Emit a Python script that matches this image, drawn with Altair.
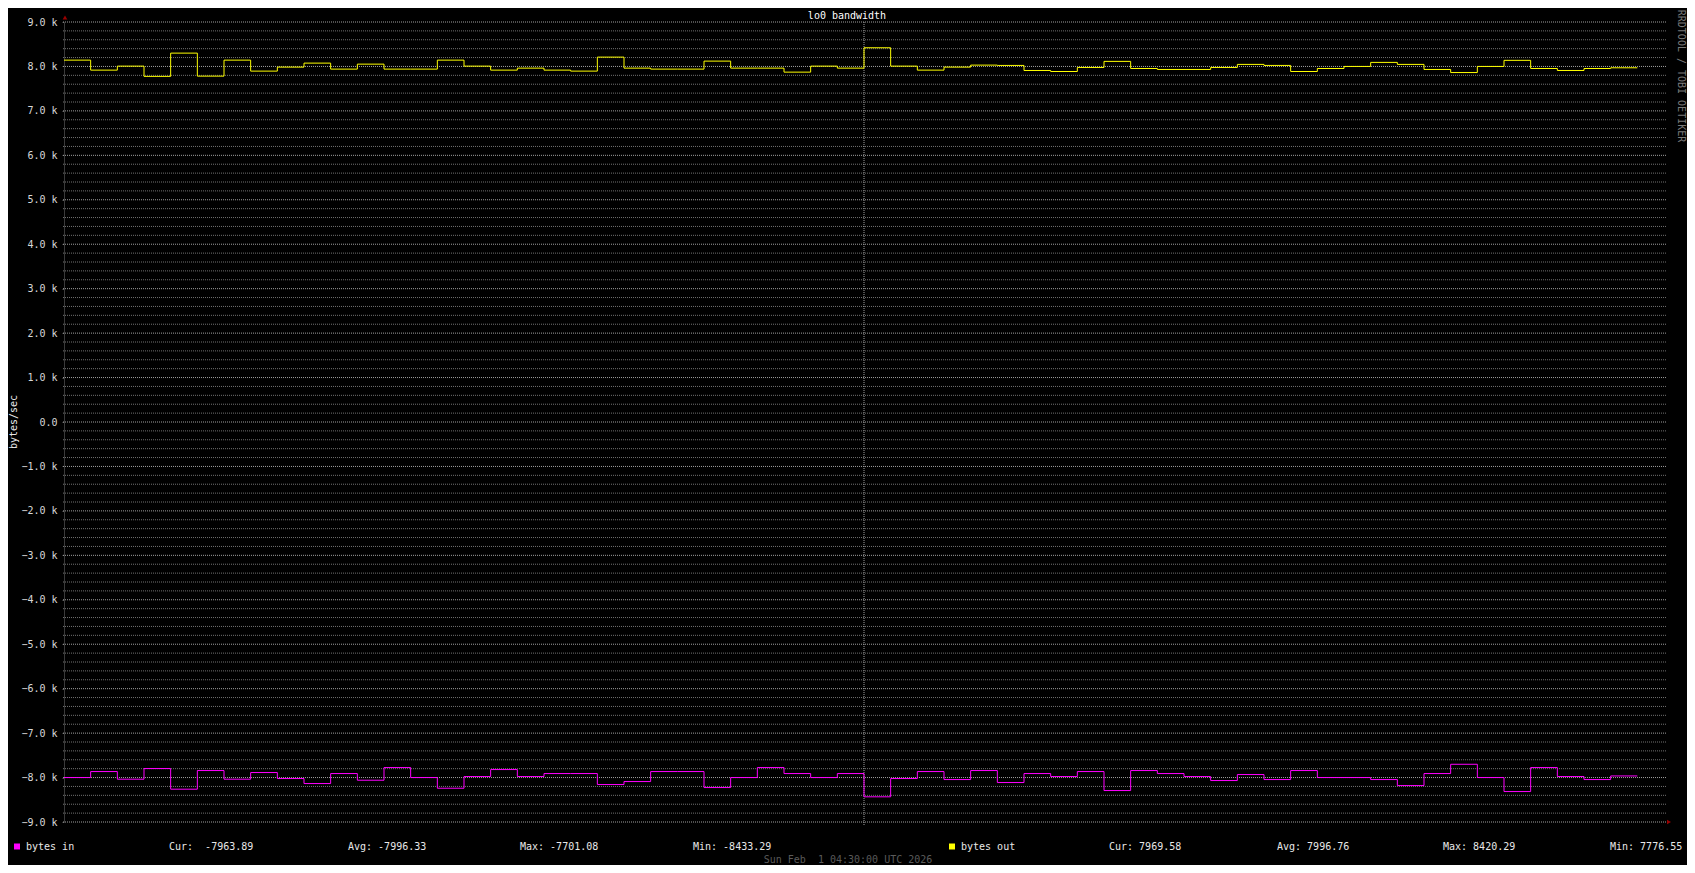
import altair as alt
import pandas as pd

FONT = "DejaVu Sans Mono"

# ---- data (one value per 5-minute step) ----
bytes_out = [8142, 7917, 8007, 7776.55, 8300, 7782, 8142, 7895, 7985, 8075,
             7940, 8052, 7940, 7940, 8142, 8007, 7917, 7962, 7917, 7895,
             8210, 7962, 7940, 7940, 8120, 7962, 7962, 7872, 8007, 7962,
             8420.29, 8007, 7917, 7985, 8030, 8023, 7909, 7886, 7977, 8114,
             7954, 7932, 7932, 7977, 8046, 8023, 7886, 7954, 8000, 8091,
             8046, 7932, 7863, 8000, 8137, 7954, 7909, 7954, 7969.58]
bytes_in = [-8000, -7865, -8037, -7797, -8262, -7842, -8037, -7887, -8022, -8135,
            -7910, -8060, -7775, -8000, -8240, -7977, -7820, -7977, -7910, -7910,
            -8157, -8090, -7865, -7865, -8225, -8000, -7775, -7910, -8000, -7910,
            -8433.29, -8022, -7865, -8045, -7842, -8112, -7910, -7977, -7865, -8292,
            -7842, -7910, -7977, -8067, -7932, -8045, -7842, -8000, -8000, -8045,
            -8180, -7910, -7701.08, -8000, -8315, -7775, -7977, -8045, -7963.89]
n_slots = 60
marker_slot = [30]
y_major = list(range(-9000, 9001, 1000))
y_minor = [v for v in range(-9000, 9001, 200) if v % 1000 != 0]

title_text = "lo0 bandwidth"
y_title = "bytes/sec"
credit = "RRDTOOL / TOBI OETIKER"
date_text = "Sun Feb\u00a0\u00a01 04:30:00 UTC 2026"
in_legend = ["bytes in", "Cur:\u00a0\u00a0-7963.89", "Avg: -7996.33", "Max: -7701.08", "Min: -8433.29"]
out_legend = ["bytes out", "Cur: 7969.58", "Avg: 7996.76", "Max: 8420.29", "Min: 7776.55"]

W, H = 1600, 800

rows = []
for name, vals in (("in", bytes_in), ("out", bytes_out)):
    for i, v in enumerate(vals):
        rows.append({"t": i, "v": v, "s": name})
    rows.append({"t": len(vals), "v": vals[-1], "s": name})
df = pd.DataFrame(rows)

xs = alt.Scale(domain=[0, n_slots], nice=False, zero=False)
ys = alt.Scale(domain=[-9000, 9000], nice=False, zero=False)

yaxis = alt.Axis(
    values=y_major,
    labelExpr="datum.value == 0 ? '0.0' : format(datum.value/1000, '.1f') + ' k'",
    labelFont=FONT, labelFontSize=10, labelColor="#d8d8d8",
    tickSize=2, tickColor="#505050", labelPadding=5,
    domainColor="#3a3a3a", grid=False, title=None)


def yenc():
    return alt.Y("v:Q", scale=ys, axis=yaxis)


minor = alt.Chart(pd.DataFrame({"v": y_minor})).mark_rule(
    color="#727272", strokeWidth=1, strokeDash=[1, 1]
).encode(y=yenc(), x=alt.value(-1), x2=alt.value(W + 3))

major = alt.Chart(pd.DataFrame({"v": y_major})).mark_rule(
    color="#a0a0a0", strokeWidth=1, strokeDash=[1, 1]
).encode(y=yenc(), x=alt.value(-1), x2=alt.value(W + 3))

vline = alt.Chart(pd.DataFrame({"t": marker_slot})).mark_rule(
    color="#a0a0a0", strokeWidth=1, strokeDash=[1, 1]
).encode(x=alt.X("t:Q", scale=xs, axis=None), y=alt.value(0), y2=alt.value(H + 4))

lines = alt.Chart(df).mark_line(interpolate="step-after", strokeWidth=1).encode(
    x=alt.X("t:Q", scale=xs, axis=None),
    y=yenc(),
    color=alt.Color("s:N", scale=alt.Scale(domain=["in", "out"], range=["#ff00ff", "#ffff00"]), legend=None),
    detail="s:N",
)


def txt(s, x, y, color="#e8e8e8", align="left", angle=0):
    return alt.Chart(pd.DataFrame({"s": [s]})).mark_text(
        align=align, baseline="middle", font=FONT, fontSize=10, color=color, angle=angle
    ).encode(x=alt.value(x), y=alt.value(y), text="s:N")


def sq(color, x, y):
    return alt.Chart(pd.DataFrame({"s": [0]})).mark_square(
        size=36, color=color, filled=True, opacity=1
    ).encode(x=alt.value(x), y=alt.value(y))


def arrow(shape, x, y):
    return alt.Chart(pd.DataFrame({"s": [0]})).mark_point(
        shape=shape, size=22, color="#9a0000", filled=True, opacity=1
    ).encode(x=alt.value(x), y=alt.value(y))


LY = 824.5
layers = [minor, major, vline, lines,
          arrow("triangle-up", 1, -4.5), arrow("triangle-right", W + 5, H),
          txt(title_text, 783, -6, color="#ffffff", align="center"),
          txt(y_title, -50.5, H / 2, align="center", angle=270),
          txt(credit, 1617, 54, color="#7a7a7a", align="center", angle=90),
          txt(date_text, 784, 838.3, color="#5a5a5a", align="center"),
          sq("#ff00ff", -47, LY), sq("#ffff00", 888, LY)]
for s, x in zip(in_legend, [-38, 105, 284, 456, 629]):
    layers.append(txt(s, x, LY))
for s, x in zip(out_legend, [897, 1045, 1213, 1379, 1546]):
    layers.append(txt(s, x, LY))

chart = alt.layer(*layers).properties(
    width=W, height=H,
    autosize=alt.AutoSizeParams(type="none"),
    padding={"left": 56, "top": 14, "right": 23, "bottom": 43},
    background="#000000",
).configure_view(stroke=None)

chart.save("out.html", embed_options={"renderer": "svg", "actions": False})
